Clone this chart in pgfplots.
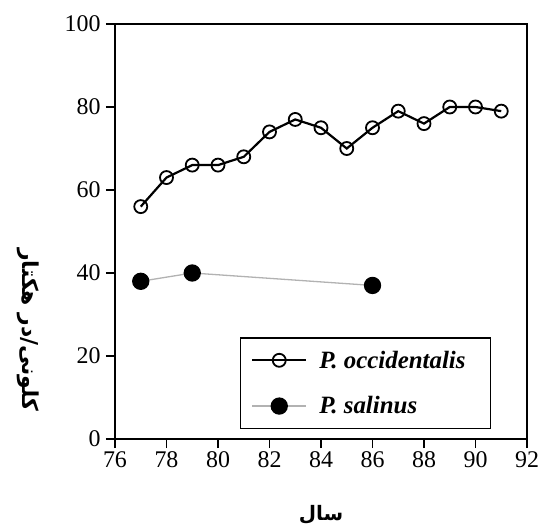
\documentclass[border=0pt]{standalone}
\usepackage{fontspec}
\setmainfont{Liberation Serif}
\newfontfamily\arabicfont[Script=Arabic]{DejaVu Sans}
\TeXXeTstate=1
\usepackage{pgfplots}
\pgfplotsset{compat=1.18}

\begin{document}
\begin{tikzpicture}
\path[use as bounding box] (-115bp,-89bp) rectangle (424bp,439bp);
\begin{axis}[
  at={(0,0)}, anchor=south west,
  scale only axis, width=412bp, height=415bp,
  xmin=76, xmax=92, ymin=0, ymax=100,
  xtick={76,78,...,92}, ytick={0,20,...,100},
  tick align=outside, xtick pos=bottom, ytick pos=left,
  major tick length=9bp,
  axis line style={line width=1.6bp},
  every tick/.style={black, line width=1.2bp},
  tick label style={font=\fontsize{24}{28}\selectfont},
  yticklabel style={xshift=-2bp},
  /pgf/number format/assume math mode=true,
  xlabel={\arabicfont\bfseries\beginR سال\endR},
  xlabel style={at={(axis description cs:0.5,-0.183)}, anchor=center,
    font=\fontsize{20}{24}\selectfont},
  ylabel={\arabicfont\bfseries\beginR کلونی/در هکتار\endR},
  ylabel style={at={(axis description cs:-0.211,0.263)}, anchor=center,
    rotate=180, font=\fontsize{22}{26}\selectfont},
  legend cell align=left,
  legend style={at={(0.913,0.024)}, anchor=south east, draw=black,
    line width=1.2bp, font=\fontsize{25}{28}\selectfont\bfseries\itshape,
    inner xsep=11bp, inner ysep=11bp, row sep=23bp},
  legend image code/.code={%
    \draw[mark repeat=2, mark phase=2, #1]
      plot coordinates {(0bp,0bp) (27bp,0bp) (54bp,0bp)};},
]
% yearly colony density, P. occidentalis
\addplot[black, line width=2.2bp, mark=o, mark size=6.5bp,
  mark options={line width=1.8bp, fill=white, solid}]
  coordinates {
  (77,56) (78,63) (79,66) (80,66) (81,68) (82,74) (83,77) (84,75)
  (85,70) (86,75) (87,79) (88,76) (89,80) (90,80) (91,79)};
\addlegendentry{\hspace*{10bp}P. occidentalis\hspace*{12bp}}
% P. salinus, three surveyed years
\addplot[gray!60, line width=1.3bp, mark=*, mark size=8bp,
  mark options={black, fill=black}]
  coordinates {(77,38) (79,40) (86,37)};
\addlegendentry{\hspace*{10bp}P. salinus}
\end{axis}
\end{tikzpicture}
\end{document}
